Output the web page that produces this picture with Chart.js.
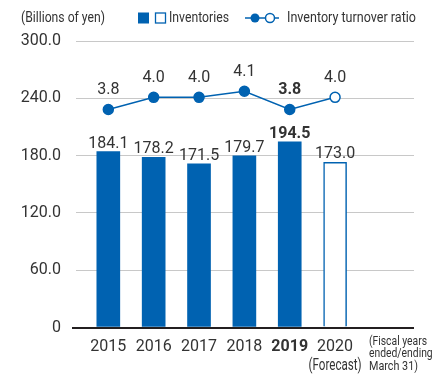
<!DOCTYPE html>
<html lang="en">
<head>
    <meta charset="UTF-8" />
    <title>Inventories and Inventory Turnover Ratio</title>
    <style>
        body {
            margin: 0;
            background: #fff;
        }
        #wrap {
            width: 434px;
            height: 375px;
        }
    </style>
</head>
<body>
<div id="wrap"><canvas id="grafico"></canvas></div>

<script src="https://cdn.jsdelivr.net/npm/chart.js"></script>
<script>
    const anos = ["2015", "2016", "2017", "2018", "2019", "2020"];
    const estoques = [184.1, 178.2, 171.5, 179.7, 194.5, 173.0];
    const giro = [3.8, 4.0, 4.0, 4.1, 3.8, 4.0];
    const yTicks = [0, 60, 120, 180, 240, 300];

    const AZUL = "#0062b1";
    const TEXTO = "#333333";
    const FONTE = "Roboto, 'Liberation Sans', sans-serif";
    const destaque = 4;   // 2019 em negrito
    const previsao = 5;   // 2020 = previsão

    // texto comprimido na horizontal até a largura pedida (fonte condensada)
    function textoLargura(ctx, str, x, y, largura) {
        const w = ctx.measureText(str).width;
        const sx = Math.min(1, largura / w);
        ctx.save();
        ctx.translate(x, y);
        ctx.scale(sx, 1);
        ctx.fillText(str, 0, 0);
        ctx.restore();
    }

    // rótulos de valor sobre barras e pontos + cabeçalho/legenda
    const rotulos = {
        id: "rotulos",
        afterDatasetsDraw(chart) {
            const ctx = chart.ctx;
            ctx.save();
            ctx.fillStyle = TEXTO;
            ctx.textAlign = "center";
            ctx.textBaseline = "alphabetic";

            chart.getDatasetMeta(1).data.forEach((el, i) => {
                ctx.font = (i === destaque ? "bold " : "") + "16px " + FONTE;
                ctx.fillText(estoques[i].toFixed(1), el.x, el.y - 4);
            });
            chart.getDatasetMeta(0).data.forEach((el, i) => {
                ctx.font = (i === destaque ? "bold " : "") + "16px " + FONTE;
                ctx.fillText(giro[i].toFixed(1), el.x, el.y - 15);
            });

            // "(Forecast)" sob o ano de 2020
            const xPrev = chart.scales.x.getPixelForValue(previsao);
            ctx.font = "16px " + FONTE;
            ctx.textBaseline = "middle";
            textoLargura(ctx, "(Forecast)", xPrev, 366, 53);

            // cabeçalho
            ctx.textAlign = "left";
            ctx.font = "14px " + FONTE;
            textoLargura(ctx, "(Billions of yen)", 21, 18, 84);

            ctx.fillStyle = AZUL;
            ctx.fillRect(138, 12.5, 11, 11);
            ctx.strokeStyle = AZUL;
            ctx.lineWidth = 1.3;
            ctx.strokeRect(155.5, 13, 10, 10);
            ctx.fillStyle = TEXTO;
            textoLargura(ctx, "Inventories", 169, 18, 60);

            ctx.beginPath();
            ctx.moveTo(245, 18);
            ctx.lineTo(279, 18);
            ctx.lineWidth = 1.5;
            ctx.stroke();
            ctx.beginPath();
            ctx.arc(255, 18, 4.5, 0, Math.PI * 2);
            ctx.fillStyle = AZUL;
            ctx.fill();
            ctx.beginPath();
            ctx.arc(270, 18, 4.5, 0, Math.PI * 2);
            ctx.fillStyle = "#fff";
            ctx.fill();
            ctx.stroke();
            ctx.fillStyle = TEXTO;
            textoLargura(ctx, "Inventory turnover ratio", 287, 18, 129);

            // nota do ano fiscal
            ctx.font = "13px " + FONTE;
            const sx = 58 / ctx.measureText("(Fiscal years").width;
            textoLargura(ctx, "(Fiscal years", 369, 341.5, 58);
            textoLargura(ctx, "ended/ending", 369, 354, ctx.measureText("ended/ending").width * sx);
            textoLargura(ctx, "March 31)", 369, 366.5, 49);
            ctx.restore();
        }
    };

    const ctx = document.getElementById("grafico").getContext("2d");
    new Chart(ctx, {
        data: {
            datasets: [{
                type: "line",
                data: giro.map((v, i) => ({ x: i, y: v })),
                yAxisID: "y1",
                borderColor: AZUL,
                borderWidth: 1.5,
                pointRadius: 5,
                pointBorderWidth: 1.5,
                pointBorderColor: AZUL,
                pointBackgroundColor: giro.map((_, i) => i === previsao ? "#fff" : AZUL),
                order: 0
            }, {
                type: "bar",
                data: estoques.map((v, i) => ({ x: i, y: v })),
                yAxisID: "y",
                barThickness: 23,
                backgroundColor: estoques.map((_, i) => i === previsao ? "#fff" : AZUL),
                borderColor: AZUL,
                borderWidth: estoques.map((_, i) => i === previsao ? 1.5 : 0),
                order: 1
            }]
        },
        options: {
            responsive: true,
            maintainAspectRatio: false,
            animation: false,
            layout: { padding: { top: 41, right: 20, left: 0, bottom: 0 } },
            plugins: {
                legend: { display: false },
                tooltip: { enabled: false }
            },
            scales: {
                x: {
                    type: "linear",
                    offset: false,
                    min: -0.47,
                    max: 6.74,
                    afterBuildTicks: s => { s.ticks = anos.map((_, i) => ({ value: i })); },
                    afterFit: s => { s.height = 47.5; },
                    grid: { display: false, drawTicks: false },
                    border: { display: false },
                    ticks: {
                        autoSkip: false,
                        maxRotation: 0,
                        padding: 10,
                        color: TEXTO,
                        font: c => ({ family: FONTE, size: 16, lineHeight: 1.2, weight: c.tick && c.tick.value === destaque ? "bold" : "normal" }),
                        callback: v => anos[v]
                    }
                },
                y: {
                    min: 0,
                    max: 300,
                    afterBuildTicks: s => { s.ticks = yTicks.map(v => ({ value: v })); },
                    afterFit: s => { s.width = 87; },
                    border: { display: false },
                    grid: {
                        color: c => c.tick.value === 0 ? "#231f20" : "#c8c8c8",
                        lineWidth: c => c.tick.value === 0 ? 2 : 1,
                        tickColor: c => c.tick.value === 0 ? "#231f20" : "#c8c8c8",
                        tickBorderDash: c => c.tick.value === 0 ? [] : [11, 4],
                        tickBorderDashOffset: 11,
                        tickLength: 15
                    },
                    ticks: {
                        padding: 11,
                        color: TEXTO,
                        font: { family: FONTE, size: 16 },
                        callback: v => v === 0 ? "0" : v.toFixed(1)
                    }
                },
                y1: {
                    display: false,
                    min: 0.2,
                    max: 4.93
                }
            }
        },
        plugins: [rotulos]
    });
</script>
</body>
</html>
